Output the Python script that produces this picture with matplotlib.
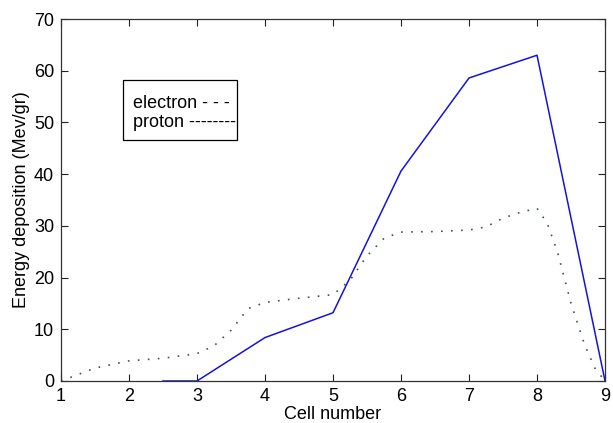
import numpy as np
import matplotlib
matplotlib.use("Agg")
import matplotlib.pyplot as plt
from matplotlib.patches import Rectangle

# values
electron_x = [2.5, 3, 4, 5, 6, 7, 8, 9]
electron_y = [0, 0, 8.4, 13.2, 40.6, 58.6, 63.0, 0]

proton_x = [1, 1.5, 2, 2.5, 3, 3.25, 3.5, 3.75, 4, 4.5, 5, 5.25, 5.5, 5.75,
            6, 6.5, 7, 7.25, 7.5, 7.75, 8, 8.15, 8.3, 8.5, 8.7, 8.85, 9]
proton_y = [0, 2.5, 3.9, 4.4, 5.3, 6.8, 9.8, 14.0, 15.2, 16.0, 16.7, 19.5, 24.2, 27.6,
            28.8, 28.9, 29.2, 29.8, 31.5, 32.6, 33.4, 30.5, 25.0, 15.0, 7.0, 2.5, 0]

x_ticks = [1, 2, 3, 4, 5, 6, 7, 8, 9]
y_ticks = [0, 10, 20, 30, 40, 50, 60, 70]
legend_lines = ["electron - - -", "proton --------"]

plt.rcParams["font.family"] = ["Liberation Sans", "DejaVu Sans"]
plt.rcParams["font.size"] = 13

fig = plt.figure(figsize=(6.13, 4.23), dpi=100)
ax = fig.add_axes([0.0995, 0.0993, 0.8875, 0.8557])

ax.plot(electron_x, electron_y, "-", color="#1414d8", lw=1.1)
ax.plot(proton_x, proton_y, color="#3c5a3c", lw=1.2, linestyle=(0, (1, 5)))

ax.set_xlim(1, 9)
ax.set_ylim(0, 70)
ax.set_xticks(x_ticks)
ax.set_yticks(y_ticks)
ax.tick_params(direction="in", top=True, right=True, length=5, width=0.8,
               colors="#222222", labelcolor="black", pad=5)
for s in ax.spines.values():
    s.set_linewidth(0.9)
    s.set_color("#333333")

ax.set_xlabel("Cell number", labelpad=1)
ax.set_ylabel("Energy deposition (Mev/gr)", labelpad=3)

# text box used as a legend in the original
ax.add_patch(Rectangle((0.1135, 0.6657), 0.2095, 0.1658, transform=ax.transAxes,
                       fc="white", ec="black", lw=0.9, zorder=3))
ax.text(0.132, 0.768, legend_lines[0], transform=ax.transAxes, va="center", zorder=4)
ax.text(0.132, 0.713, legend_lines[1], transform=ax.transAxes, va="center", zorder=4)

fig.savefig("out.png", dpi=100)
